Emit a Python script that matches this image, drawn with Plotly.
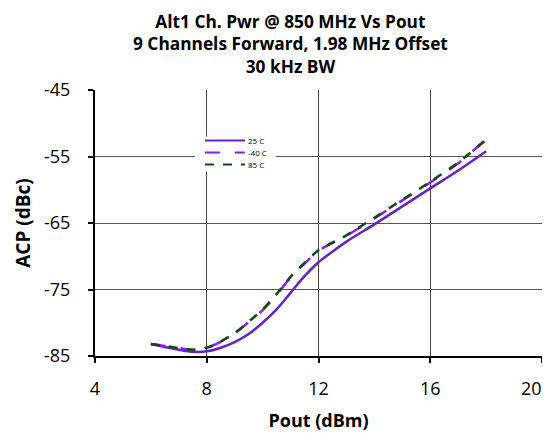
import plotly.graph_objects as go

pout = [6, 6.5, 7, 7.5, 8, 8.5, 9, 9.5, 10, 10.5, 11, 11.5, 12, 12.5, 13, 14, 15, 16, 17, 18]
acp_25 = [-83.2, -83.65, -84.05, -84.37, -84.3, -83.75, -82.9, -81.7, -80.0, -78.0, -75.5,
          -73.0, -70.9, -69.3, -67.8, -65.2, -62.5, -59.8, -57.1, -54.2]
acp_m40 = [-83.2, -83.5, -83.8, -84.1, -83.8, -82.85, -81.6, -79.9, -78.1, -75.8, -73.2,
           -71.1, -69.2, -68.0, -66.9, -64.3, -61.6, -58.9, -56.0, -52.4]
acp_85 = [-83.2, -83.5, -83.8, -84.05, -83.75, -82.8, -81.55, -79.85, -78.0, -75.7, -73.1,
          -71.0, -69.1, -67.95, -66.85, -64.2, -61.5, -58.8, -55.9, -52.5]

x_ticks = [4, 8, 12, 16, 20]
x_ticklabels = ["4", "8", "12", "16", "20"]
y_ticks = [-85, -75, -65, -55, -45]

series_names = ["25 C", "-40 C", "85 C"]
series_colors = ["#6622c4", "#8c1aff", "#0f4a0f"]
series_dash = ["solid", "longdash", "dash"]

title_lines = ["Alt1 Ch. Pwr @ 850 MHz Vs Pout",
               "9 Channels Forward, 1.98 MHz Offset",
               "30 kHz BW"]

FONT = "Open Sans"

# figure geometry (page body has an 8px offset)
L, R, T, B = 87, 15.7, 81.5, 86.3
W, H = 550, 434
PW, PH = W - L - R, H - T - B


def px_to_paper(xp, yp):
    return (xp - L) / PW, 1 - (yp - T) / PH


fig = go.Figure()
for ys, nm, col, dsh in zip([acp_25, acp_m40, acp_85], series_names, series_colors, series_dash):
    fig.add_trace(go.Scatter(x=pout, y=ys, name=nm, mode="lines", showlegend=False,
                             line=dict(color=col, width=2.5, shape="spline", smoothing=0.9, dash=dsh)))

shapes = []
annotations = []

# title as a three-line annotation
tx_title, ty_title = px_to_paper(283, -1)
annotations.append(dict(text="<b>" + "<br>".join(title_lines) + "</b>",
                        xref="paper", yref="paper", x=tx_title, y=ty_title,
                        xanchor="center", yanchor="top", showarrow=False, align="center",
                        font=dict(family=FONT, size=17.3, color="black")))

# last x tick label, nudged left to stay inside the page (as in the reference)
_, ty_last = px_to_paper(0, 380)
annotations.append(dict(text=x_ticklabels[-1], xref="x", yref="paper", x=x_ticks[-1], y=ty_last,
                        xanchor="center", yanchor="middle", xshift=-11, showarrow=False,
                        font=dict(family=FONT, size=18, color="black")))

# compact legend box (white background interrupting gridline)
bx0, by0 = px_to_paper(187, 128)
bx1, by1 = px_to_paper(268, 163)
shapes.append(dict(type="rect", xref="paper", yref="paper", x0=bx0, x1=bx1, y0=by1, y1=by0,
                   fillcolor="white", line=dict(width=0), layer="above"))
for i, (nm, col, dsh) in enumerate(zip(series_names, series_colors, series_dash)):
    yy = 132 + 12 * i
    lx0, ly = px_to_paper(197, yy)
    lx1, _ = px_to_paper(237, yy)
    tx, _ = px_to_paper(238, yy)
    shapes.append(dict(type="line", xref="paper", yref="paper", x0=lx0, x1=lx1, y0=ly, y1=ly,
                       line=dict(color=col, width=2, dash=dsh), layer="above"))
    annotations.append(dict(text=nm, xref="paper", yref="paper", x=tx, y=ly,
                            xanchor="left", yanchor="middle", showarrow=False,
                            font=dict(family=FONT, size=8, color="black")))

fig.update_layout(
    width=W, height=H,
    paper_bgcolor="white", plot_bgcolor="white",
    margin=dict(l=L, r=R, t=T, b=B),
    font=dict(family=FONT, color="black"),
    showlegend=False,
    shapes=shapes,
    annotations=annotations,
)

fig.update_xaxes(range=[4, 20], tickvals=x_ticks, ticktext=x_ticklabels[:-1] + [""],
                 showgrid=True, gridcolor="#444", gridwidth=1,
                 showline=True, linecolor="black", linewidth=2,
                 ticks="outside", ticklen=5, tickwidth=1.5, tickcolor="black",
                 tickfont=dict(family=FONT, size=18), ticklabelstandoff=10,
                 ticklabeloverflow="allow", automargin=False,
                 zeroline=False,
                 title=dict(text="<b>Pout (dBm)</b>", font=dict(family=FONT, size=18), standoff=16))
fig.update_yaxes(range=[-85, -45], tickvals=y_ticks, ticktext=[str(v) for v in y_ticks],
                 showgrid=True, gridcolor="#555", gridwidth=1,
                 showline=True, linecolor="black", linewidth=2,
                 ticks="outside", ticklen=5, tickwidth=1.5, tickcolor="black",
                 tickfont=dict(family=FONT, size=18), ticklabelstandoff=14,
                 automargin=False,
                 zeroline=False,
                 title=dict(text="<b>ACP (dBc)</b>", font=dict(family=FONT, size=19), standoff=8))

fig.write_html("out.html")
